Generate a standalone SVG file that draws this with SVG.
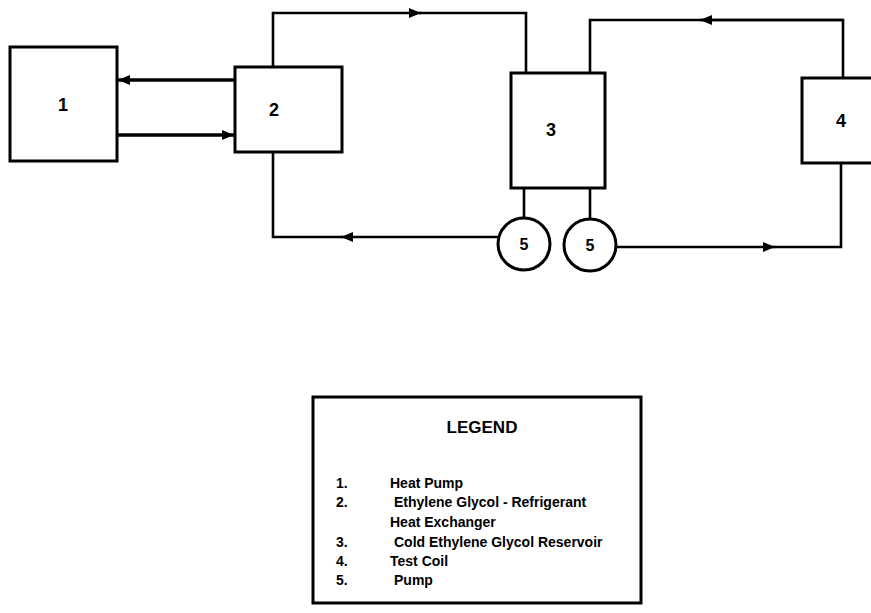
<svg xmlns="http://www.w3.org/2000/svg" width="871" height="613" viewBox="0 0 871 613">
<style>
.box{fill:#fff;stroke:#000;stroke-width:3}
.ln{fill:none;stroke:#000;stroke-width:2.6;stroke-linejoin:miter}
.thk{stroke-width:3.4}
.num{font-family:"Liberation Sans",Arial,sans-serif;font-weight:bold;font-size:18px;text-anchor:middle;fill:#000}
.pn{font-family:"Liberation Sans",Arial,sans-serif;font-weight:bold;font-size:16px;text-anchor:middle;fill:#000}
.lg{font-family:"Liberation Sans",Arial,sans-serif;font-weight:bold;font-size:14px;fill:#000}
.lt{font-family:"Liberation Sans",Arial,sans-serif;font-weight:bold;font-size:17px;text-anchor:middle;fill:#000}
</style>
<defs>
<marker id="arr" viewBox="0 0 12 10" refX="12" refY="5" markerWidth="12" markerHeight="10" markerUnits="userSpaceOnUse" orient="auto">
<path d="M0,0 L12,5 L0,10 Z" fill="#000"/>
</marker>
</defs>
<rect width="871" height="613" fill="#fff"/>
<g id="connectors">
<path class="ln thk" d="M235,80 H118" marker-end="url(#arr)"/>
<path class="ln thk" d="M117,135 H234" marker-end="url(#arr)"/>
<path class="ln" d="M273,67 V13 H421" marker-end="url(#arr)"/>
<path class="ln" d="M419,13 H526 V73"/>
<path class="ln" d="M498,237 H341" marker-end="url(#arr)"/>
<path class="ln" d="M343,237 H273 V152"/>
<path class="ln" d="M590,73 V20 H843 V78"/>
<path class="ln" d="M843,20 H700" marker-end="url(#arr)"/>
<path class="ln" d="M616,247 H775" marker-end="url(#arr)"/>
<path class="ln" d="M773,247 H841 V164"/>
<path class="ln" d="M524,188 V218"/>
<path class="ln" d="M590,188 V219"/>
</g>
<g id="node1"><rect class="box" x="10" y="47" width="107" height="114"/><text class="num" x="63" y="111">1</text></g>
<g id="node2"><rect class="box" x="235" y="67" width="107" height="85"/><text class="num" x="274" y="116">2</text></g>
<g id="node3"><rect class="box" x="511" y="73" width="94" height="115"/><text class="num" x="551" y="136">3</text></g>
<g id="node4"><rect class="box" x="802" y="78" width="80" height="85"/><text class="num" x="841" y="127">4</text></g>
<g id="pump1"><circle class="box" cx="524" cy="244" r="26"/><text class="pn" x="524" y="250">5</text></g>
<g id="pump2"><circle class="box" cx="590" cy="245" r="26"/><text class="pn" x="590" y="251">5</text></g>
<g id="legend">
<rect class="box" x="313" y="397" width="328" height="206"/>
<text class="lt" x="482" y="433">LEGEND</text>
<text class="lg" x="336" y="488">1.</text><text class="lg" x="390" y="488">Heat Pump</text>
<text class="lg" x="336" y="507">2.</text><text class="lg" x="394" y="507">Ethylene Glycol - Refrigerant</text>
<text class="lg" x="390" y="527">Heat Exchanger</text>
<text class="lg" x="336" y="547">3.</text><text class="lg" x="394" y="547">Cold Ethylene Glycol Reservoir</text>
<text class="lg" x="336" y="566">4.</text><text class="lg" x="390" y="566">Test Coil</text>
<text class="lg" x="336" y="585">5.</text><text class="lg" x="394" y="585">Pump</text>
</g>
</svg>
